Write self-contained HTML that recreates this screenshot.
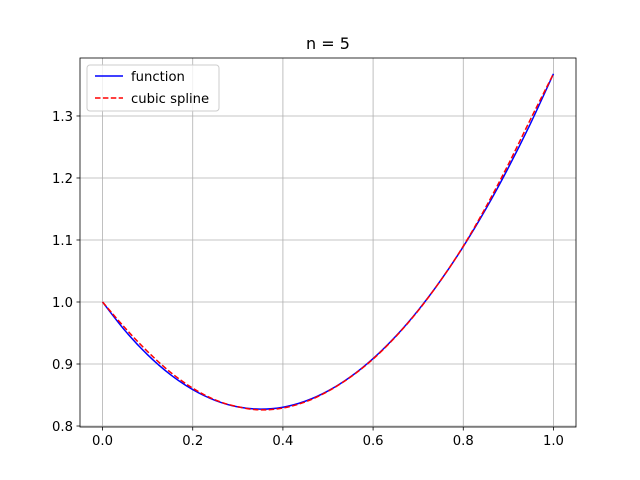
<!DOCTYPE html>
<html><head><meta charset="utf-8"><style>
html,body{margin:0;padding:0;background:#fff;}
svg{display:block;font-family:"DejaVu Sans","Liberation Sans",sans-serif;}
</style></head><body>
<svg id="chart" width="640" height="480" viewBox="0 0 640 480">
<rect x="0" y="0" width="640" height="480" fill="#fff"/>
<g id="grid"></g><g id="series"></g><g id="axes"></g>
<text x="328" y="49" text-anchor="middle" font-size="16">n = 5</text>
<g>
<rect x="87" y="65" width="132" height="46" rx="3" fill="#fff" fill-opacity="0.8" stroke="#cccccc"/>
<line x1="95" y1="76" x2="123" y2="76" stroke="blue" stroke-width="1.5"/>
<text x="131" y="81" font-size="13.2">function</text>
<line x1="95" y1="98" x2="123" y2="98" stroke="red" stroke-width="1.5" stroke-dasharray="5.5,2.4"/>
<text x="131" y="103" font-size="13.2">cubic spline</text>
</g>
</svg>
<script>
const xs = [0,0.05,0.1,0.15,0.2,0.25,0.3,0.35,0.4,0.45,0.5,0.55,0.6,0.65,0.7,0.75,0.8,0.85,0.9,0.95,1];
const funcVals = [1,0.9537,0.9148,0.8832,0.8587,0.8413,0.8308,0.8272,0.8303,0.8401,0.8565,0.8794,0.9088,0.9445,0.9866,1.0349,1.0893,1.1499,1.2166,1.2892,1.3679];
const splineVals = [1,0.958,0.920,0.887,0.861,0.842,0.831,0.826,0.829,0.839,0.856,0.879,0.908,0.944,0.986,1.035,1.090,1.153,1.222,1.296,1.368];
const xTicks = [0,0.2,0.4,0.6,0.8,1.0];
const yTicks = [0.8,0.9,1.0,1.1,1.2,1.3];
const xTickLabels = ["0.0","0.2","0.4","0.6","0.8","1.0"];
const yTickLabels = ["0.8","0.9","1.0","1.1","1.2","1.3"];

const L=80,R=576,T=58,B=427;
const xmin=-0.05,xmax=1.05,ymin=0.7984,ymax=1.3935;
const sx=v=>L+(v-xmin)/(xmax-xmin)*(R-L);
const sy=v=>B-(v-ymin)/(ymax-ymin)*(B-T);
const NS="http://www.w3.org/2000/svg";
function mk(tag,attrs,parent){const e=document.createElementNS(NS,tag);for(const k in attrs)e.setAttribute(k,attrs[k]);parent.appendChild(e);return e;}
const grid=document.getElementById('grid'),axes=document.getElementById('axes'),series=document.getElementById('series');
xTicks.forEach((t,i)=>{
  const x=sx(t);
  const g=mk('line',{x1:x,y1:T,x2:x,y2:B,stroke:'#b0b0b0','stroke-width':0.8},grid);
  
  
  const tk=mk('line',{x1:x,y1:B,x2:x,y2:B+3.5,stroke:'#000','stroke-width':0.8},axes);
  
  
  const lb=mk('text',{x:x,y:B+18,'text-anchor':'middle','font-size':13.2},axes);
  lb.textContent=xTickLabels[i];
  
  
});
yTicks.forEach((t,i)=>{
  const y=sy(t);
  const g=mk('line',{x1:L,y1:y,x2:R,y2:y,stroke:'#b0b0b0','stroke-width':0.8},grid);
  
  
  const tk=mk('line',{x1:L-3.5,y1:y,x2:L,y2:y,stroke:'#000','stroke-width':0.8},axes);
  
  
  const lb=mk('text',{x:L-7,y:y+5,'text-anchor':'end','font-size':13.2},axes);
  lb.textContent=yTickLabels[i];
  
  
});
const fr=mk('rect',{x:L,y:T,width:R-L,height:B-T,fill:'none',stroke:'#000','stroke-width':0.8},axes);


function path(vals){
  const P=vals.map((v,i)=>[sx(xs[i]),sy(v)]);
  let d='M'+P[0][0].toFixed(2)+','+P[0][1].toFixed(2);
  for(let i=0;i<P.length-1;i++){
    const p0=P[Math.max(0,i-1)],p1=P[i],p2=P[i+1],p3=P[Math.min(P.length-1,i+2)];
    const c1=[p1[0]+(p2[0]-p0[0])/6,p1[1]+(p2[1]-p0[1])/6];
    const c2=[p2[0]-(p3[0]-p1[0])/6,p2[1]-(p3[1]-p1[1])/6];
    d+=' C'+c1.map(n=>n.toFixed(2)).join(',')+' '+c2.map(n=>n.toFixed(2)).join(',')+' '+p2.map(n=>n.toFixed(2)).join(',');
  }
  return d;
}
const p1=mk('path',{d:path(funcVals),fill:'none',stroke:'blue','stroke-width':1.5},series);


const p2=mk('path',{d:path(splineVals),fill:'none',stroke:'red','stroke-width':1.5,'stroke-dasharray':'5.5,2.4'},series);


</script>
</body></html>
